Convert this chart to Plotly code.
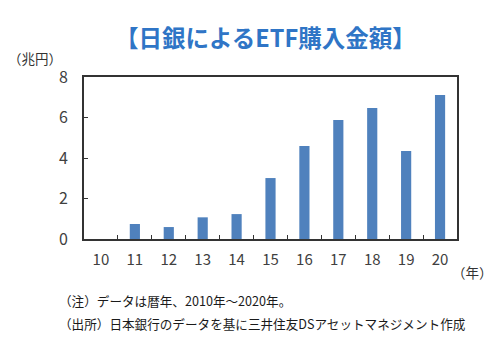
import plotly.graph_objects as go

years = ["10", "11", "12", "13", "14", "15", "16", "17", "18", "19", "20"]
values = [0.0, 0.74, 0.59, 1.07, 1.23, 3.01, 4.59, 5.88, 6.47, 4.35, 7.11]
y_ticks = [0, 2, 4, 6, 8]

title_text = "【日銀によるETF購入金額】"
y_unit = "（兆円）"
x_unit = "（年）"
note1 = "（注）データは暦年、2010年～2020年。"
note2 = "（出所）日本銀行のデータを基に三井住友DSアセットマネジメント作成"

FONT = "Noto Sans CJK JP"
L, R, T, B = 84, 457, 77, 239

fig = go.Figure(go.Bar(x=years, y=values, marker=dict(color="#4F81BD", line=dict(width=0)),
                       width=0.3))

fig.update_layout(
    width=501, height=359,
    margin=dict(l=L, r=501 - R, t=T, b=359 - B),
    paper_bgcolor="white", plot_bgcolor="white",
    font=dict(family=FONT, color="#333333"),
    showlegend=False,
)
fig.update_xaxes(
    type="category", tickson="boundaries", ticks="inside", ticklen=4, tickcolor="#333333",
    showline=True, linecolor="#333333", linewidth=1.6, mirror=True,
    tickfont=dict(size=15, family=FONT, color="#404040"), ticklabelstandoff=6,
    showgrid=False,
)
fig.update_yaxes(
    range=[0, 8], tickvals=y_ticks, ticks="inside", ticklen=4, tickcolor="#333333",
    showline=True, linecolor="#333333", linewidth=1.6, mirror=True,
    tickfont=dict(size=16, family=FONT, color="#404040"), ticklabelstandoff=11,
    showgrid=False, zeroline=False,
)

def px(x):
    return (x - L) / (R - L)
def py(y):
    return (B - y) / (B - T)

fig.add_annotation(text="<b>" + title_text + "</b>", x=px(265), y=py(37), xref="paper", yref="paper",
                   showarrow=False, xanchor="center", yanchor="middle",
                   font=dict(size=23.5, family=FONT, color="#2F75C6"))
fig.add_annotation(text=y_unit, x=px(6), y=py(58), xref="paper", yref="paper",
                   showarrow=False, xanchor="left", yanchor="middle",
                   font=dict(size=13.5, family=FONT, color="#333333"))
fig.add_annotation(text=x_unit, x=px(450), y=py(272), xref="paper", yref="paper",
                   showarrow=False, xanchor="left", yanchor="middle",
                   font=dict(size=13.5, family=FONT, color="#333333"))
fig.add_annotation(text=note1, x=px(57), y=py(300), xref="paper", yref="paper",
                   showarrow=False, xanchor="left", yanchor="middle",
                   font=dict(size=12.6, family=FONT, color="#1a1a1a"))
fig.add_annotation(text=note2, x=px(57), y=py(323), xref="paper", yref="paper",
                   showarrow=False, xanchor="left", yanchor="middle",
                   font=dict(size=12.6, family=FONT, color="#1a1a1a"))

fig.write_html("out.html", config={"displayModeBar": False},
               post_script="document.body.style.margin='0';")
